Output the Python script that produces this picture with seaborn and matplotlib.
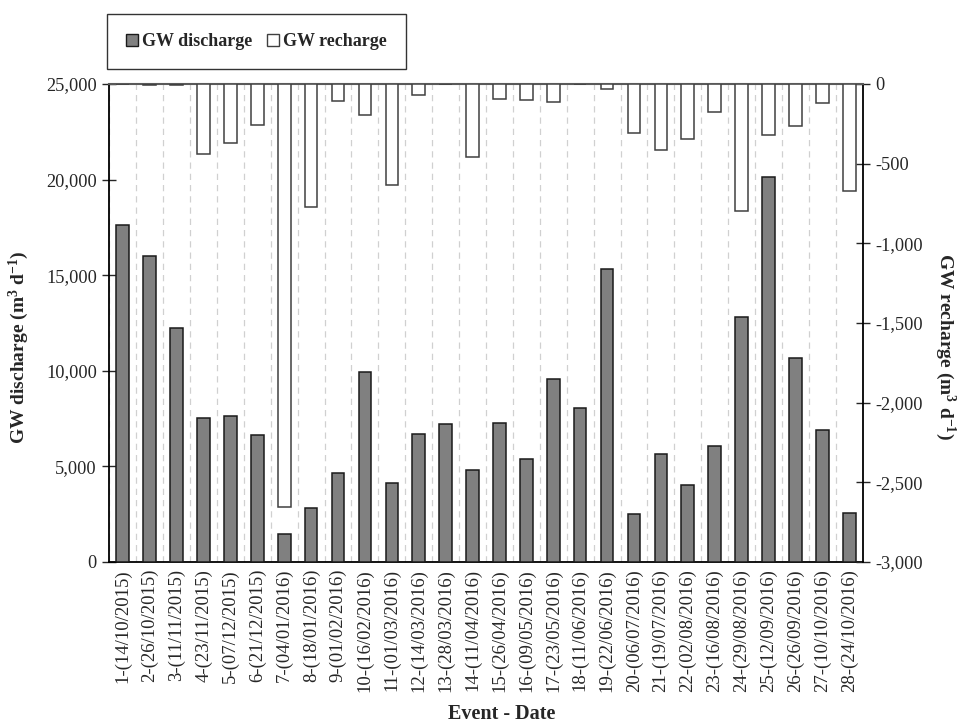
import numpy as np
import pandas as pd
import matplotlib
matplotlib.use("Agg")
import matplotlib.pyplot as plt
import seaborn as sns
from matplotlib.ticker import FuncFormatter
from matplotlib.patches import Patch

events = ["1-(14/10/2015)", "2-(26/10/2015)", "3-(11/11/2015)", "4-(23/11/2015)",
          "5-(07/12/2015)", "6-(21/12/2015)", "7-(04/01/2016)", "8-(18/01/2016)",
          "9-(01/02/2016)", "10-(16/02/2016)", "11-(01/03/2016)", "12-(14/03/2016)",
          "13-(28/03/2016)", "14-(11/04/2016)", "15-(26/04/2016)", "16-(09/05/2016)",
          "17-(23/05/2016)", "18-(11/06/2016)", "19-(22/06/2016)", "20-(06/07/2016)",
          "21-(19/07/2016)", "22-(02/08/2016)", "23-(16/08/2016)", "24-(29/08/2016)",
          "25-(12/09/2016)", "26-(26/09/2016)", "27-(10/10/2016)", "28-(24/10/2016)"]

gw_discharge = [17620, 16000, 12250, 7510, 7620, 6640, 1470, 2800,
                4640, 9920, 4110, 6680, 7200, 4830, 7250, 5400,
                9550, 8040, 15300, 2490, 5630, 4030, 6050, 12830,
                20130, 10670, 6900, 2540]

gw_recharge = [-2, -5, -5, -437, -368, -260, -2653, -772,
               -107, -195, -634, -67, -3, -456, -94, -103,
               -111, -2, -31, -305, -416, -347, -174, -797,
               -320, -264, -119, -669]

df = pd.DataFrame({"event": events, "discharge": gw_discharge, "recharge": gw_recharge})

sns.set_style("white")
serif = ["Liberation Serif", "DejaVu Serif"]
plt.rcParams["font.family"] = serif
plt.rcParams["mathtext.fontset"] = "custom"
plt.rcParams["mathtext.rm"] = "Liberation Serif:bold"
plt.rcParams["mathtext.bf"] = "Liberation Serif:bold"
plt.rcParams["mathtext.default"] = "bf"

fig = plt.figure(figsize=(9.61, 7.26), dpi=100)
ax = fig.add_axes([109.3 / 961, 1 - 562 / 726, (862.7 - 109.3) / 961, (562 - 84) / 726])
ax2 = ax.twinx()

sns.barplot(data=df, x="event", y="discharge", ax=ax, color="#808080",
            saturation=1, width=0.47, edgecolor="#1a1a1a", linewidth=1.1, zorder=3)
sns.barplot(data=df, x="event", y="recharge", ax=ax2, color="white",
            saturation=1, width=0.47, edgecolor="#404040", linewidth=1.1, zorder=3)

ax.set_xlim(-0.5, len(events) - 0.5)
ax.set_ylim(0, 25000)
ax.set_yticks(np.arange(0, 25001, 5000))
ax.yaxis.set_major_formatter(FuncFormatter(lambda v, p: f"{int(v):,}"))
ax2.set_ylim(-3000, 0)
ax2.set_yticks(np.arange(-3000, 1, 500))
ax2.yaxis.set_major_formatter(FuncFormatter(lambda v, p: f"{int(v):,}"))

# x ticks: labels at centers, tick marks + dashed grid at boundaries
ax.set_xticks(np.arange(len(events)))
ax.set_xticklabels(events, rotation=90, fontsize=13.5)
ax.set_xticks(np.arange(-0.5, len(events), 1), minor=True)
ax.tick_params(axis="x", which="major", length=0, pad=5)
ax.tick_params(axis="x", which="minor", direction="inout", length=9, width=1, color="black")
ax.grid(False)
ax.xaxis.grid(True, which="minor", linestyle=(0, (5, 4)), color="#d0d0d0", linewidth=0.9)
ax.set_axisbelow(True)

ax.tick_params(axis="y", direction="inout", length=10, width=1, labelsize=13.2, left=True, pad=4)
ax2.tick_params(axis="y", direction="inout", length=10, width=1, labelsize=13.2, right=True, pad=4)

for sp in ["left", "bottom"]:
    ax.spines[sp].set_color("black")
    ax.spines[sp].set_linewidth(1.3)
ax2.spines["right"].set_color("black")
ax2.spines["right"].set_linewidth(1.3)
ax2.spines["top"].set_color("#595959")
ax2.spines["top"].set_linewidth(1.5)
ax.spines["top"].set_visible(False)
ax.spines["right"].set_visible(False)
ax2.spines["left"].set_visible(False)
ax2.spines["bottom"].set_visible(False)

ax.set_ylabel(r"GW discharge (m$^{3}$ d$^{-1}$)", fontsize=14, fontweight="bold")
ax.yaxis.set_label_coords(-0.104, 0.45)
ax2.set_ylabel(r"GW recharge (m$^{3}$ d$^{-1}$)", fontsize=14, fontweight="bold",
               rotation=270)
ax2.yaxis.set_label_coords(1.125, 0.45)
ax.set_xlabel("Event - Date", fontsize=14.5, fontweight="bold", va="top")
ax.xaxis.set_label_coords(0.521, -0.298)

handles = [Patch(facecolor="#808080", edgecolor="#1a1a1a", linewidth=1.0, label="GW discharge"),
           Patch(facecolor="white", edgecolor="#404040", linewidth=1.0, label="GW recharge")]
leg = fig.legend(handles=handles, loc="upper left", bbox_to_anchor=(107 / 961, 1 - 14 / 726),
                 ncol=2, frameon=True, fancybox=False, edgecolor="black",
                 prop={"family": serif, "weight": "bold", "size": 13},
                 handlelength=0.65, handleheight=0.65, handletextpad=0.25,
                 columnspacing=0.8, borderpad=1.05, borderaxespad=0)
leg.get_frame().set_linewidth(1.0)

fig.savefig("out.png", dpi=100)
